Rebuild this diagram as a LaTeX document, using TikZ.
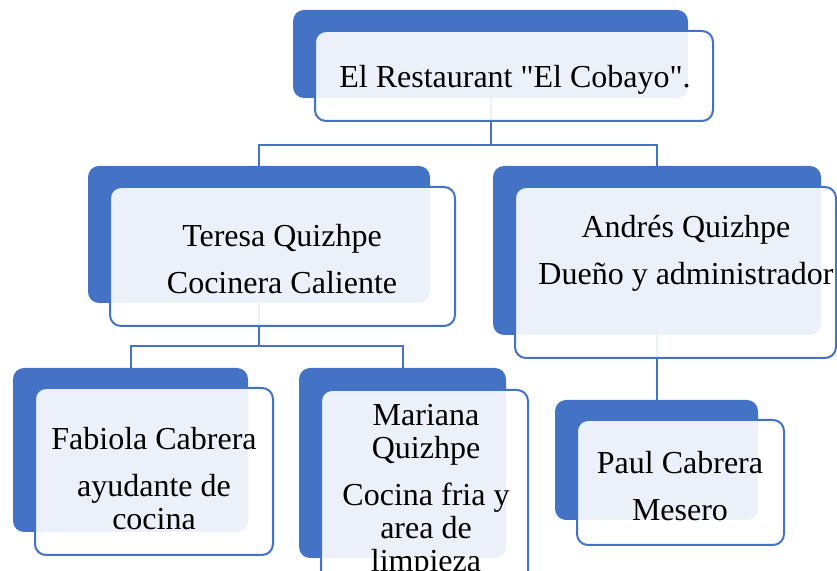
\documentclass[tikz,border=0pt]{standalone}
\usepackage{fontspec}
\newfontfamily\orgfont{Liberation Serif}
\usetikzlibrary{positioning}
\usetikzlibrary{fit}
\usetikzlibrary{backgrounds}
\definecolor{orgblue}{HTML}{4472C4}
\tikzset{
    backbox/.style={fill=orgblue, rounded corners=5.5pt, inner sep=0pt},
    frontbox/.style={draw=orgblue, line width=1pt, fill=white, fill opacity=0.9, rounded corners=5.5pt, inner sep=0pt},
    orgtext/.style={font=\orgfont\fontsize{16}{16.5}\selectfont, align=center, inner sep=0pt},
    link/.style={draw=orgblue, line width=1pt},
}

\begin{document}
\begin{tikzpicture}[x=0.5pt, y=-0.5pt]
	\useasboundingbox (0,0) rectangle (837,571);
	% back boxes
	\node[backbox, fit={(293,10) (688,98)}] (topback) {};
	\node[backbox, fit={(88,166) (430,303)}] (teresaback) {};
	\node[backbox, fit={(493,166) (821,335)}] (andresback) {};
	\node[backbox, fit={(13,368) (248,532)}] (fabiolaback) {};
	\node[backbox, fit={(299,368) (506,558)}] (marianaback) {};
	\node[backbox, fit={(555,400) (758,520)}] (paulback) {};
	% connectors
	\begin{scope}[on background layer]
	\draw[link] (topback.south) -- ++(0,47) -| (teresaback.north);
	\draw[link] (topback.south) ++(0,47) -| (andresback.north);
	\draw[link] (teresaback.south) -- ++(0,43) -| (fabiolaback.north);
	\draw[link] (teresaback.south) ++(0,43) -| (marianaback.north);
	\draw[link] (andresback.south) -- (andresback.south |- paulback.north);
	\end{scope}
	% front boxes
	\node[frontbox, fit={(315,31) (713,121)}] (topfront) {};
	\node[frontbox, fit={(110,187) (455,326)}] (teresafront) {};
	\node[frontbox, fit={(515,187) (836,358)}] (andresfront) {};
	\node[frontbox, fit={(35,388) (273,555)}] (fabiolafront) {};
	\node[frontbox, fit={(321,390) (528,590)}] (marianafront) {};
	\node[frontbox, fit={(577,420) (784,545)}] (paulfront) {};
	% texts
	\node[orgtext] (toptext) at (515,79.5) {El Restaurant "El Cobayo".};
	\node[orgtext] (teresatext) at (282,259) {Teresa Quizhpe\\[7pt]Cocinera Caliente};
	\node[orgtext] (andrestext) at (686,253) {Andrés Quizhpe\\[7pt]Dueño y administrador};
	\node[orgtext] (fabiolatext) at (154,479) {Fabiola Cabrera\\[7pt]ayudante de\\cocina};
	\node[orgtext] (marianatext) at (426,491) {Mariana\\Quizhpe\\[7pt]Cocina fria y\\area de\\limpieza};
	\node[orgtext] (paultext) at (680,486.5) {Paul Cabrera\\[7pt]Mesero};
\end{tikzpicture}
\end{document}
